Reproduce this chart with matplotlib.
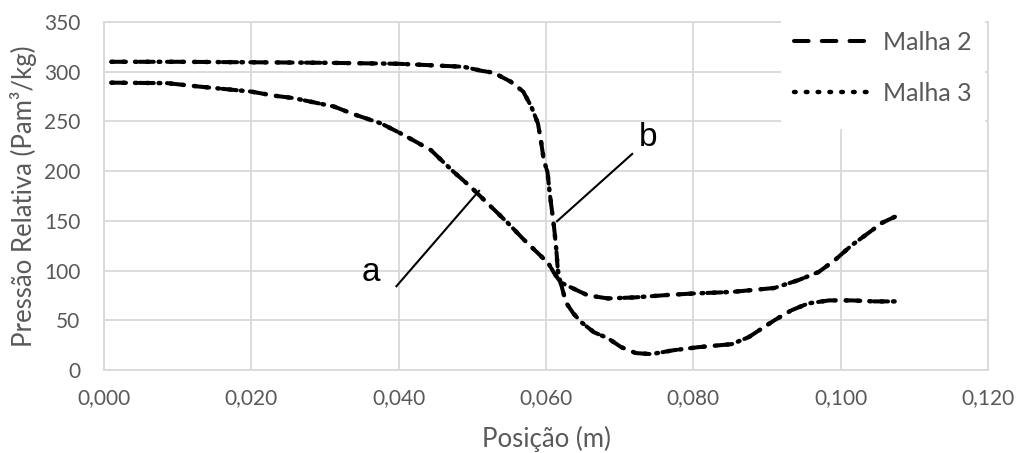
import matplotlib
matplotlib.use("Agg")
import matplotlib.pyplot as plt
from matplotlib.patches import Rectangle
from matplotlib.ticker import FuncFormatter

# curva a (começa em ~289)
x_a = [0.001, 0.0086, 0.013, 0.020, 0.023, 0.0257, 0.0312, 0.0340, 0.0376, 0.040,
       0.042, 0.0444, 0.0458, 0.0475, 0.0498, 0.0516, 0.0548, 0.057, 0.0589, 0.0603,
       0.0611, 0.062, 0.0634, 0.0657, 0.0684, 0.072, 0.0766, 0.0801, 0.0852, 0.091,
       0.0943, 0.097, 0.0992, 0.1015, 0.1038, 0.1056, 0.1079]
y_a = [289, 288.5, 285, 280, 276, 273.5, 265, 257, 248, 239,
       231, 221, 211, 199, 184, 171, 148, 131, 117.5, 107.5,
       97.5, 88, 83, 75, 72, 73, 75.5, 77, 78.5, 82.5,
       90.5, 98.5, 110.5, 125.5, 138, 148, 156]

# curva b (começa em ~310)
x_b = [0.001, 0.010, 0.020, 0.030, 0.040, 0.0488, 0.0512, 0.0529, 0.0552, 0.0569,
       0.058, 0.0589, 0.0593, 0.0597, 0.0602, 0.0605, 0.0611, 0.0614, 0.0616, 0.062,
       0.0627, 0.0637, 0.0648, 0.0665, 0.0684, 0.0702, 0.0722, 0.0743, 0.0774, 0.0807,
       0.0852, 0.0875, 0.091, 0.0933, 0.0956, 0.0984, 0.1015, 0.1046, 0.1076]
y_b = [310, 310, 309.5, 309, 308, 305, 301, 299, 290, 280,
       265, 248, 231, 211, 199, 178, 143, 121, 100.5, 87.5,
       68, 57, 48, 38, 32, 23, 17, 16, 20, 23,
       26, 33, 50, 60, 67, 70, 70, 69, 69]

series = ["Malha 2", "Malha 3"]
x_ticks = [0.0, 0.02, 0.04, 0.06, 0.08, 0.10, 0.12]
y_ticks = [0, 50, 100, 150, 200, 250, 300, 350]

plt.rcParams['lines.scale_dashes'] = False
plt.rcParams['lines.dash_capstyle'] = 'round'
cinza = '#595959'
grade = '#d9d9d9'

fig = plt.figure(figsize=(10.17, 4.53), dpi=100)
ax = fig.add_axes([0.1023, 0.1832, 0.8692, 0.7682])

estilos = {"Malha 2": dict(dashes=(10.5, 9.5), lw=2.9),
           "Malha 3": dict(dashes=(1.2, 7.3), lw=3.2)}
handles = []
for s in series:
    la, = ax.plot(x_a, y_a, color='black', label=s, zorder=3, **estilos[s])
    ax.plot(x_b, y_b, color='black', zorder=3, **estilos[s])
    handles.append(la)

ax.set_xlim(0, 0.12)
ax.set_ylim(0, 350)
ax.set_xticks(x_ticks)
ax.set_yticks(y_ticks)
ax.xaxis.set_major_formatter(FuncFormatter(lambda v, p: f"{v:.3f}".replace('.', ',')))
ax.grid(True, color=grade, lw=1.3)
ax.set_axisbelow(True)
for sp in ax.spines.values():
    sp.set_color(grade)
    sp.set_linewidth(1.3)
ax.tick_params(length=0, labelsize=15, labelcolor=cinza)
ax.tick_params(axis='y', pad=17)
ax.tick_params(axis='x', pad=13)
for lab in ax.get_xticklabels() + ax.get_yticklabels():
    lab.set_fontfamily('Lato')

ax.set_xlabel("Posição (m)", fontsize=18.5, color=cinza, family='Lato', labelpad=13)
ax.set_ylabel("Pressão Relativa (Pam³/kg)", fontsize=18.5, color=cinza,
              family=['Lato', 'DejaVu Sans'], labelpad=5)

# fundo branco da legenda
ax.add_patch(Rectangle((0.766, 0.6925), 0.231, 0.32, transform=ax.transAxes,
                       facecolor='white', edgecolor='none', zorder=2.6, clip_on=False))
leg = ax.legend(handles=handles, loc='upper left', bbox_to_anchor=(0.755, 1.04),
                frameon=False, handlelength=3.2, handletextpad=0.35, labelspacing=1.13,
                prop={'family': 'Lato', 'size': 18})
for t in leg.get_texts():
    t.set_color(cinza)
leg.set_zorder(4)

# rótulos a e b
ax.annotate('', xy=(0.051, 181), xytext=(0.0396, 83.5),
            arrowprops=dict(arrowstyle='-', lw=1.5, color='black', shrinkA=0, shrinkB=0,
                            capstyle='butt'))
ax.text(0.0362, 97.6, 'a', fontsize=24, family='Liberation Sans', ha='center', va='center')
ax.annotate('', xy=(0.0614, 149), xytext=(0.0718, 218),
            arrowprops=dict(arrowstyle='-', lw=1.5, color='black', shrinkA=0, shrinkB=0,
                            capstyle='butt'))
ax.text(0.0739, 234, 'b', fontsize=24, family='Liberation Sans', ha='center', va='center')

fig.savefig('out.png', dpi=100)
